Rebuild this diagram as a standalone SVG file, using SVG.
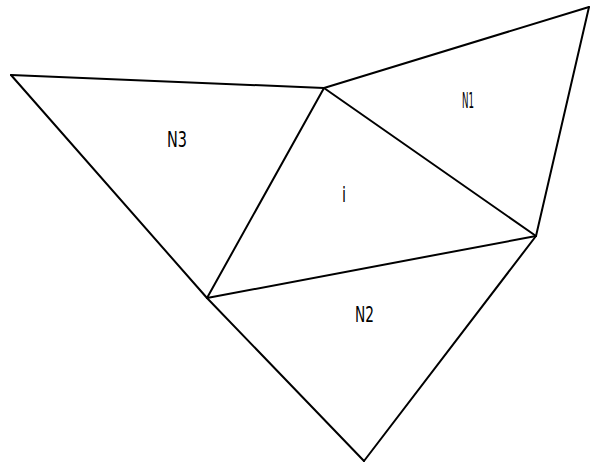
<svg xmlns="http://www.w3.org/2000/svg" width="596" height="464" viewBox="0 0 596 464">
<style>
.edge{fill:none;stroke:#000;stroke-width:2;stroke-linejoin:miter;stroke-linecap:round}
.lbl{font-family:"DejaVu Sans Condensed","Liberation Sans",sans-serif;font-size:22px;fill:#000}
</style>
<rect width="596" height="464" fill="#fff"/>
<g id="connectors">
<line class="edge" x1="11" y1="75" x2="324" y2="88"/>
<line class="edge" x1="11" y1="75" x2="207" y2="298"/>
<line class="edge" x1="324" y1="88" x2="207" y2="298"/>
<line class="edge" x1="324" y1="88" x2="589" y2="7"/>
<line class="edge" x1="324" y1="88" x2="536" y2="236"/>
<line class="edge" x1="589" y1="7" x2="536" y2="236"/>
<line class="edge" x1="207" y1="298" x2="536" y2="236"/>
<line class="edge" x1="207" y1="298" x2="364" y2="461"/>
<line class="edge" x1="536" y1="236" x2="364" y2="461"/>
</g>
<g id="N3"><text class="lbl" x="167" y="147" textLength="20" lengthAdjust="spacingAndGlyphs">N3</text></g>
<g id="i"><text class="lbl" x="342" y="202" textLength="4" lengthAdjust="spacingAndGlyphs">i</text></g>
<g id="N1"><text class="lbl" x="462" y="108" textLength="12" lengthAdjust="spacingAndGlyphs">N1</text></g>
<g id="N2"><text class="lbl" x="355" y="322" textLength="19" lengthAdjust="spacingAndGlyphs">N2</text></g>
</svg>
